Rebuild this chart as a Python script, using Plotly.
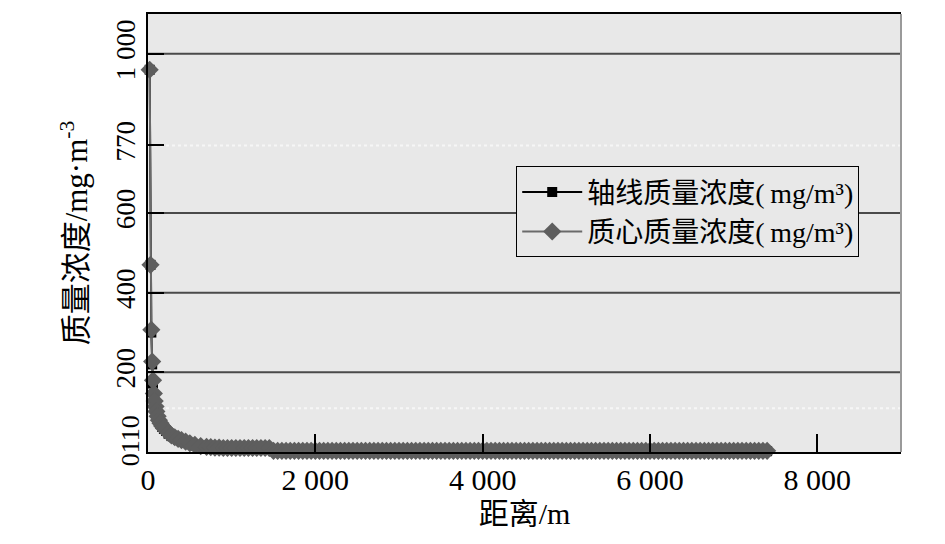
import plotly.graph_objects as go

# ---- data ----
centroid_near_d = [20, 30, 40, 50, 60, 70, 80, 90, 100, 115, 130, 150, 170, 190, 215, 245,
                   280, 320, 360, 400, 450, 500, 560, 630, 700, 750, 800, 850, 900, 950, 1000,
                   1050, 1100, 1150, 1200, 1250, 1300, 1350, 1400, 1450]
centroid_near_v = [960, 470, 307, 227, 180, 147, 128, 114, 102, 90, 80, 72, 65, 60, 55, 48,
                   42, 37, 33, 30, 26, 22, 18, 15, 13, 12, 11, 11, 10, 10, 10,
                   10, 10, 10, 10, 10, 10, 10, 10, 10]

axial_near_d = [20, 30, 40, 50, 60, 70, 80, 90, 100, 115, 130, 150, 170, 190, 215, 245,
                280, 320, 360, 400, 450, 500, 560, 630, 700, 800, 900, 1000, 1100, 1200, 1300, 1400]
axial_near_v = [960, 470, 300, 220, 172, 140, 124, 110, 98, 88, 78, 70, 63, 58, 53, 46,
                40, 35, 31, 28, 24, 20, 16, 14, 12, 10, 9, 9, 8, 8, 8, 8]

centroid_tail_d = [1500, 1550, 1600, 1650, 1700, 1750, 1800, 1850, 1900, 1950, 2000, 2050,
                   2100, 2150, 2200, 2250, 2300, 2350, 2400, 2450, 2500, 2550, 2600, 2650,
                   2700, 2750, 2800, 2850, 2900, 2950, 3000, 3050, 3100, 3150, 3200, 3250,
                   3300, 3350, 3400, 3450, 3500, 3550, 3600, 3650, 3700, 3750, 3800, 3850,
                   3900, 3950, 4000, 4050, 4100, 4150, 4200, 4250, 4300, 4350, 4400, 4450,
                   4500, 4550, 4600, 4650, 4700, 4750, 4800, 4850, 4900, 4950, 5000, 5050,
                   5100, 5150, 5200, 5250, 5300, 5350, 5400, 5450, 5500, 5550, 5600, 5650,
                   5700, 5750, 5800, 5850, 5900, 5950, 6000, 6050, 6100, 6150, 6200, 6250,
                   6300, 6350, 6400, 6450, 6500, 6550, 6600, 6650, 6700, 6750, 6800, 6850,
                   6900, 6950, 7000, 7050, 7100, 7150, 7200, 7250, 7300, 7350, 7400]
centroid_tail_v = [3, 3, 3, 3, 3, 3, 3, 3, 3, 3, 3, 3,
                   3, 3, 3, 3, 3, 3, 3, 3, 3, 3, 3, 3,
                   3, 3, 3, 3, 3, 3, 3, 3, 3, 3, 3, 3,
                   3, 3, 3, 3, 3, 3, 3, 3, 3, 3, 3, 3,
                   3, 3, 3, 3, 3, 3, 3, 3, 3, 3, 3, 3,
                   3, 3, 3, 3, 3, 3, 3, 3, 3, 3, 3, 3,
                   3, 3, 3, 3, 3, 3, 3, 3, 3, 3, 3, 3,
                   3, 3, 3, 3, 3, 3, 3, 3, 3, 3, 3, 3,
                   3, 3, 3, 3, 3, 3, 3, 3, 3, 3, 3, 3,
                   3, 3, 3, 3, 3, 3, 3, 3, 3, 3, 3]

axial_tail_d = [1500, 1600, 1700, 1800, 1900, 2000, 2100, 2200, 2300, 2400, 2500, 2600,
                2700, 2800, 2900, 3000, 3100, 3200, 3300, 3400, 3500, 3600, 3700, 3800,
                3900, 4000, 4100, 4200, 4300, 4400, 4500, 4600, 4700, 4800, 4900, 5000,
                5100, 5200, 5300, 5400, 5500, 5600, 5700, 5800, 5900, 6000, 6100, 6200,
                6300, 6400, 6500, 6600, 6700, 6800, 6900, 7000, 7100, 7200, 7300, 7400]
axial_tail_v = [2, 2, 2, 2, 2, 2, 2, 2, 2, 2, 2, 2,
                2, 2, 2, 2, 2, 2, 2, 2, 2, 2, 2, 2,
                2, 2, 2, 2, 2, 2, 2, 2, 2, 2, 2, 2,
                2, 2, 2, 2, 2, 2, 2, 2, 2, 2, 2, 2,
                2, 2, 2, 2, 2, 2, 2, 2, 2, 2, 2, 2]

x_tickvals = [0, 2000, 4000, 6000, 8000, 9000]
x_ticktext = ["0", "2 000", "4 000", "6 000", "8 000", ""]
y_tickvals = [200, 400, 600, 770, 1000]
y_ticktext = ["200", "400", "600", "770", "1 000"]
solid_grid = [200, 400, 600, 1000]
dotted_grid = [110, 770]
bottom_label = "0110"
bottom_label_value = 27

names = ["轴线质量浓度(\u2009mg/m³)", "质心质量浓度(\u2009mg/m³)"]

FONT = "Liberation Serif, 'Noto Sans CJK SC', serif"

fig = go.Figure()
fig.add_trace(go.Scatter(
    x=axial_near_d + axial_tail_d, y=axial_near_v + axial_tail_v, name=names[0],
    mode="lines+markers", cliponaxis=False,
    line=dict(color="black", width=2),
    marker=dict(symbol="square", size=10, color="black"),
))
fig.add_trace(go.Scatter(
    x=centroid_near_d + centroid_tail_d, y=centroid_near_v + centroid_tail_v, name=names[1],
    mode="lines+markers", cliponaxis=False,
    line=dict(color="#6a6a6a", width=2),
    marker=dict(symbol="diamond", size=14, color="#5e5e5e"),
))

shapes = []
for v in solid_grid:
    shapes.append(dict(type="line", xref="paper", x0=0, x1=1, yref="y", y0=v, y1=v,
                       line=dict(color="#4a4a4a", width=2), layer="below"))
for v in dotted_grid:
    shapes.append(dict(type="line", xref="paper", x0=0, x1=1, yref="y", y0=v, y1=v,
                       line=dict(color="#f6f6f6", width=2, dash="dot"), layer="below"))
shapes.append(dict(type="line", xref="paper", x0=1, x1=1, yref="paper", y0=0, y1=1,
                   line=dict(color="#9a9a9a", width=2)))

fig.update_layout(
    width=945, height=544,
    margin=dict(l=140, r=52, t=4, b=100),
    paper_bgcolor="white", plot_bgcolor="#e8e8e8",
    font=dict(family=FONT, color="black", size=26),
    shapes=shapes,
    showlegend=True,
    legend=dict(x=0.489, y=0.652, xanchor="left", yanchor="top",
                bgcolor="#e8e8e8", bordercolor="black", borderwidth=1,
                font=dict(family=FONT, size=28, color="black"),
                itemwidth=60, tracegroupgap=0),
    annotations=[dict(text=bottom_label, xref="paper", x=0, xanchor="center", xshift=-18,
                      yref="y", y=bottom_label_value, yanchor="middle", textangle=-90,
                      showarrow=False, font=dict(family=FONT, size=26, color="black"))],
)
fig.update_xaxes(
    range=[0, 9000], tickvals=x_tickvals, ticktext=x_ticktext,
    ticks="inside", ticklen=18, tickwidth=1.5, tickcolor="black",
    showline=True, linecolor="black", linewidth=2, mirror=True,
    showgrid=False, zeroline=False,
    tickfont=dict(family=FONT, size=30),
    title=dict(text="距离/m", font=dict(family=FONT, size=30), standoff=8),
)
fig.update_yaxes(
    range=[0, 1100], tickvals=y_tickvals, ticktext=y_ticktext, tickangle=-90,
    ticks="inside", ticklen=16, tickwidth=1.5, tickcolor="black",
    showline=True, linecolor="black", linewidth=2,
    showgrid=False, zeroline=False,
    tickfont=dict(family=FONT, size=27),
    title=dict(text="质量浓度/mg·m<sup>-3</sup>", font=dict(family=FONT, size=31), standoff=14),
)

fig.write_html("out.html")
